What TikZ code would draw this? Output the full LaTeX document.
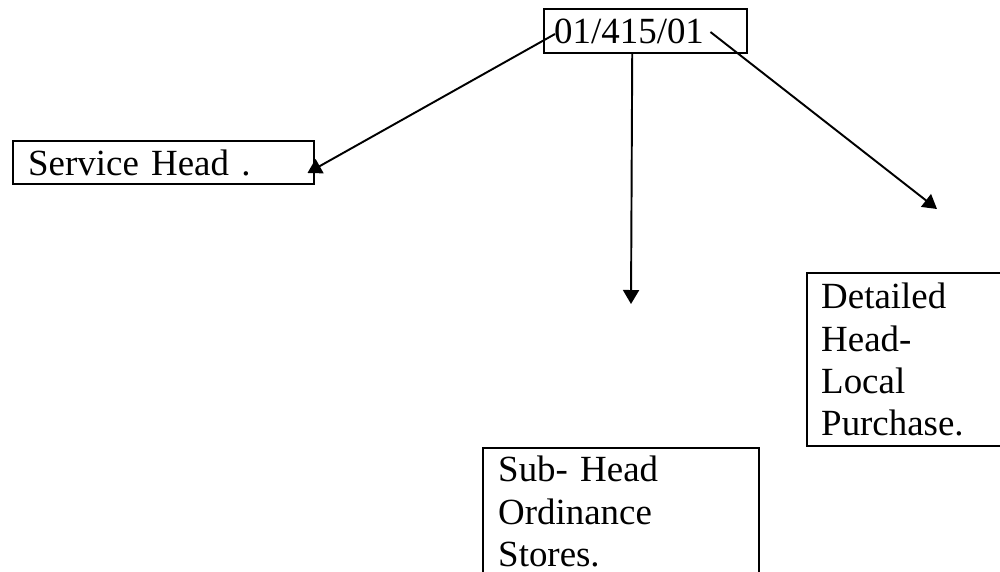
\documentclass[tikz,border=0pt]{standalone}
\usepackage{fontspec}
\setmainfont{Liberation Serif}
\usetikzlibrary{shapes,arrows.meta}
\tikzstyle{block} = [draw, rectangle, line width=1.4pt, align=left, inner ysep=0.16cm, font=\fontsize{21}{24}\selectfont]
\tikzstyle{invis} = [draw=none]

\begin{document}
\begin{tikzpicture}[->,>={Triangle[width=0.32cm,length=0.28cm]},line width=1.1pt]

\useasboundingbox (0,0) rectangle (20,-11.42);
\clip (0,0) rectangle (20,-11.42);

\node[block, anchor=west, xshift=10.86cm, yshift=-0.62cm, inner xsep=0.2cm, text width=3.66cm, minimum height=0.88cm] (code) [] {01/415/01};
\node[block, anchor=west, xshift=0.24cm, yshift=-3.25cm, inner xsep=0.3cm, text width=5.42cm, minimum height=0.86cm] (service) [] {Service Head .};
\node[block, anchor=north west, xshift=16.12cm, yshift=-5.44cm, inner xsep=0.28cm, inner ysep=0.2cm, text width=3.56cm] (detailed) [] {Detailed\\Head-\\Local\\Purchase.};
\node[block, anchor=north west, xshift=9.64cm, yshift=-8.94cm, inner xsep=0.3cm, text width=4.92cm] (sub) [] {Sub- Head\\Ordinance\\Stores.\rule[-0.4cm]{0pt}{0.4cm}};

\coordinate (subtip) at (12.62,-6.08);
\coordinate (dettip) at (18.74,-4.18);

\path
([xshift=0.24cm, yshift=-0.06cm]code.west) edge [] ([xshift=-0.16cm, yshift=-0.21cm]service.east)
([xshift=-0.27cm]code.south) edge [] (subtip)
([xshift=-0.76cm, yshift=-0.02cm]code.east) edge [] (dettip);

\end{tikzpicture}
\end{document}
